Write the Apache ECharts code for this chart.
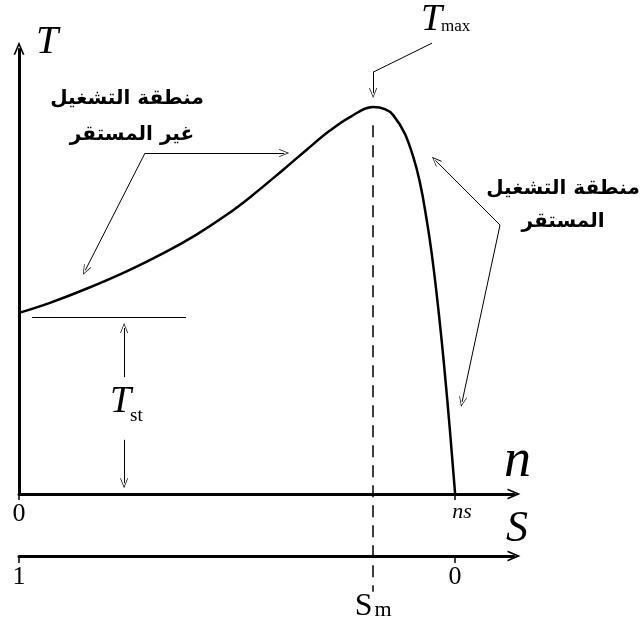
<!DOCTYPE html>
<html>
<head>
<meta charset="utf-8">
<script src="https://cdn.jsdelivr.net/npm/echarts@6/dist/echarts.min.js"></script>
<style>html,body{margin:0;padding:0;background:#fff}#chart{width:642px;height:622px}</style>
</head>
<body>
<div id="chart"></div>
<script>
// torque-speed curve, n scaled so ns = 1, T scaled so Tmax = 1
var speedN  = [0, 0.071, 0.156, 0.248, 0.339, 0.408, 0.477, 0.530, 0.606, 0.661, 0.713, 0.759, 0.812,
               0.858, 0.904, 0.936, 0.961, 0.982, 1.0];
var torqueT = [0.468, 0.494, 0.531, 0.576, 0.627, 0.671, 0.722, 0.767, 0.838, 0.891, 0.939, 0.974, 1.0,
               0.979, 0.871, 0.700, 0.483, 0.243, 0];
var nTicks = [0, 1];
var nTickLabels = ['0', 'ns'];
var sTicks = [1, 0];
var sTickLabels = ['1', '0'];
var slipAtTmax = 0.188;    // Sm
var startTorque = 0.457;   // Tst
var zoneText = ['منطقة التشغيل', 'غير المستقر', 'المستقر'];

var curveData = speedN.map(function (n, i) { return [n, torqueT[i]]; });
var nAtTmax = 1 - slipAtTmax;

var chevron = 'path://M5,0L10,12L8.4,12L5,3.8L1.6,12L0,12Z';
var thinHead = 'path://M5,0L10,12L9.1,12L5,2.2L0.9,12L0,12Z';

function seg(a, b, opts) {
  opts = opts || {};
  return [
    { coord: a, symbol: 'none', lineStyle: { color: '#000', width: opts.width || 1, type: opts.type || 'solid' } },
    { coord: b, symbol: opts.head || 'none', symbolSize: opts.size || [8, 10] }
  ];
}

var serif = 'Liberation Serif';
var arabicFont = 'bold 20px "DejaVu Sans"';
var chart = echarts.init(document.getElementById('chart'));

var option = {
  animation: false,
  backgroundColor: '#fff',
  grid: { left: 19, right: 128, top: 42, bottom: 22, containLabel: false, outerBoundsMode: 'none' },
  xAxis: [
    {
      type: 'value', min: 0, max: 1.135, position: 'bottom', offset: -106,
      axisLine: { onZero: false, symbol: ['none', chevron], symbolSize: [11, 13], lineStyle: { color: '#000', width: 3 } },
      axisTick: { customValues: nTicks, length: 6, lineStyle: { color: '#000', width: 1.5 } },
      axisLabel: {
        customValues: nTicks, margin: 7, color: '#000',
        formatter: function (v) { return v === 0 ? '{a|' + nTickLabels[0] + '}' : '{b|' + nTickLabels[1] + '}'; },
        rich: {
          a: { fontFamily: serif, fontSize: 26, color: '#000' },
          b: { fontFamily: serif, fontStyle: 'italic', fontSize: 22, color: '#000', padding: [0, 0, 0, 14] }
        }
      },
      splitLine: { show: false }
    },
    {
      type: 'value', min: -0.135, max: 1, inverse: true, position: 'bottom', offset: -44,
      axisLine: { onZero: false, symbol: ['none', chevron], symbolSize: [11, 13], lineStyle: { color: '#000', width: 3 } },
      axisTick: { customValues: sTicks, length: 7, lineStyle: { color: '#000', width: 1.5 } },
      axisLabel: {
        customValues: [sTicks[0], slipAtTmax, sTicks[1]], margin: 8, color: '#000',
        formatter: function (v) {
          if (Math.abs(v - slipAtTmax) < 1e-6) return '{s|S}{m|m}';
          return '{a|' + (v === 1 ? sTickLabels[0] : sTickLabels[1]) + '}';
        },
        rich: {
          a: { fontFamily: serif, fontSize: 26, color: '#000' },
          s: { fontFamily: serif, fontSize: 32, color: '#000', padding: [27, 0, 0, 0] },
          m: { fontFamily: serif, fontSize: 22, color: '#000', padding: [33, 0, 0, 2] }
        }
      },
      splitLine: { show: false }
    }
  ],
  yAxis: { type: 'value', min: -0.274, max: 1.168, show: false },
  series: [{
    type: 'line',
    xAxisIndex: 0,
    data: curveData,
    smooth: 0.4,
    showSymbol: false,
    clip: false,
    lineStyle: { color: '#000', width: 2.5 },
    markLine: {
      silent: true,
      animation: false,
      label: { show: false },
      symbol: ['none', 'none'],
      data: [
        seg([0, 0], [0, 1.152], { width: 3, head: chevron, size: [11, 13] }),
        seg([0.030, startTorque], [0.383, startTorque], { width: 1.2 }),
        seg([0.241, 0.302], [0.241, 0.429], { head: thinHead }),
        seg([0.241, 0.140], [0.241, 0.028], { head: thinHead }),
        seg([nAtTmax, 0.953], [nAtTmax, -0.253], { width: 1.5, type: [12, 8] }),
        seg([0.947, 1.165], [nAtTmax, 1.090]),
        seg([nAtTmax, 1.090], [nAtTmax, 1.036], { head: thinHead }),
        seg([0.289, 0.881], [0.608, 0.881], { head: thinHead }),
        seg([0.289, 0.881], [0.152, 0.578], { head: thinHead }),
        seg([1.103, 0.695], [0.955, 0.862], { head: thinHead }),
        seg([1.103, 0.695], [1.016, 0.238], { head: thinHead })
      ]
    }
  }],
  graphic: [
    { type: 'text', left: 36, top: 22, style: { text: 'T', font: 'italic 40px "Liberation Serif"', fill: '#000' } },
    { type: 'text', left: 504, top: 435, style: { text: 'n', font: 'italic 54px "Liberation Serif"', fill: '#000' } },
    { type: 'text', left: 506, top: 507, style: { text: 'S', font: 'italic 44px "Liberation Serif"', fill: '#000' } },
    { type: 'text', left: 421, top: 1, style: { text: 'T', font: 'italic 38px "Liberation Serif"', fill: '#000' } },
    { type: 'text', left: 441, top: 18, style: { text: 'max', font: '17px "Liberation Serif"', fill: '#000' } },
    { type: 'text', left: 110, top: 383, style: { text: 'T', font: 'italic 38px "Liberation Serif"', fill: '#000' } },
    { type: 'text', left: 130, top: 407, style: { text: 'st', font: '19px "Liberation Serif"', fill: '#000' } },
    { type: 'text', x: 127, y: 99, style: { text: zoneText[0], font: arabicFont, fill: '#000', align: 'center', verticalAlign: 'middle' } },
    { type: 'text', x: 132, y: 135, style: { text: zoneText[1], font: arabicFont, fill: '#000', align: 'center', verticalAlign: 'middle' } },
    { type: 'text', x: 563, y: 189, style: { text: zoneText[0], font: arabicFont, fill: '#000', align: 'center', verticalAlign: 'middle' } },
    { type: 'text', x: 563, y: 222, style: { text: zoneText[2], font: arabicFont, fill: '#000', align: 'center', verticalAlign: 'middle' } }
  ]
};
chart.setOption(option);
</script>
</body>
</html>
